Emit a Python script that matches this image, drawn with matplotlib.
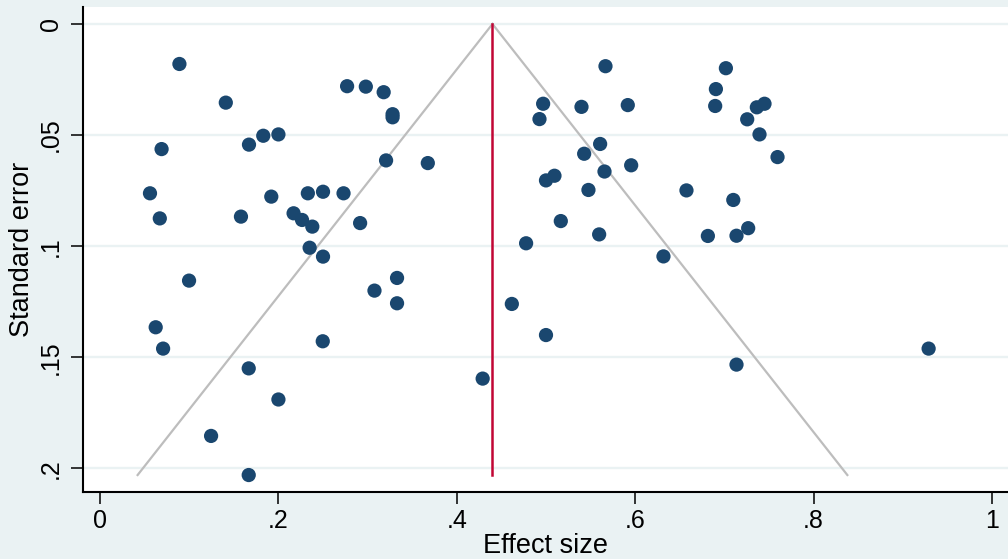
import numpy as np
import matplotlib
matplotlib.use("Agg")
import matplotlib.pyplot as plt

plt.rcParams['font.family'] = ['Liberation Sans', 'DejaVu Sans']

# --- DATA ---
effect = [0.089, 0.141, 0.069, 0.056, 0.067, 0.158, 0.167, 0.183, 0.200, 0.192,
          0.217, 0.2265, 0.238, 0.233, 0.250, 0.273, 0.235, 0.250, 0.0998,
          0.0624, 0.0707, 0.1667, 0.200, 0.1245, 0.1667, 0.2497,
          0.277, 0.298, 0.318, 0.328, 0.328, 0.3207, 0.3675, 0.2916,
          0.333, 0.3077, 0.333, 0.4617, 0.500, 0.429,
          0.5667, 0.4968, 0.4927, 0.5398, 0.5917, 0.5607, 0.5428, 0.5955,
          0.5656, 0.5095, 0.500, 0.5476, 0.5166, 0.5596, 0.4777, 0.6317,
          0.7017, 0.6905, 0.6897, 0.7364, 0.745, 0.7256, 0.7394, 0.7596,
          0.6575, 0.710, 0.6815, 0.7136, 0.7267, 0.7136, 0.929]
stderr = [0.018, 0.0354, 0.0563, 0.0762, 0.0875, 0.0867, 0.0543, 0.0503, 0.0497, 0.0777,
          0.0852, 0.0882, 0.0912, 0.0762, 0.0755, 0.0762, 0.1007, 0.1047, 0.1155,
          0.1365, 0.1461, 0.155, 0.169, 0.1854, 0.203, 0.1428,
          0.028, 0.0282, 0.0307, 0.0406, 0.042, 0.0614, 0.0626, 0.0896,
          0.1143, 0.120, 0.1257, 0.126, 0.140, 0.1596,
          0.019, 0.0359, 0.0428, 0.0373, 0.0365, 0.054, 0.0584, 0.0636,
          0.0664, 0.0683, 0.0704, 0.0747, 0.0887, 0.0947, 0.0987, 0.1046,
          0.0199, 0.0293, 0.0369, 0.0375, 0.0359, 0.0429, 0.0497, 0.0599,
          0.0749, 0.0792, 0.0954, 0.0953, 0.0919, 0.1533, 0.1461]
pooled = 0.44

xticks = [0, 0.2, 0.4, 0.6, 0.8, 1.0]
xticklabels = ['0', '.2', '.4', '.6', '.8', '1']
yticks = [0, 0.05, 0.1, 0.15, 0.2]
yticklabels = ['0', '.05', '.1', '.15', '.2']

# --- PLOT ---
bg = '#EAF2F3'
fig = plt.figure(figsize=(10.08, 5.59), dpi=100, facecolor=bg)
ax = fig.add_axes([0.0827, 0.1204, 0.9173, 0.8671])
ax.set_facecolor('white')

# pseudo 95% confidence limits
se_max = max(stderr)
se_line = np.array([0, se_max])
ax.plot(pooled - 1.96 * se_line, se_line, color='#BDBDBD', lw=1.6, zorder=2)
ax.plot(pooled + 1.96 * se_line, se_line, color='#BDBDBD', lw=1.6, zorder=2)
ax.plot([pooled, pooled], [0, se_max], color='#C10534', lw=1.8, zorder=3)

ax.scatter(effect, stderr, s=105, color='#1A476F', edgecolors='none', zorder=4)

ax.set_xlim(-0.0187, 1.018)
ax.set_ylim(0.2105, -0.00765)

ax.set_xticks(xticks)
ax.set_xticklabels(xticklabels)
ax.set_yticks(yticks)
ax.set_yticklabels(yticklabels, rotation=90, va='center')
ax.grid(axis='y', color=bg, lw=1.7)
ax.set_axisbelow(True)

for side in ['top', 'right']:
    ax.spines[side].set_visible(False)
for side in ['left', 'bottom']:
    ax.spines[side].set_linewidth(1.5)
ax.tick_params(axis='both', length=8.5, width=1.1, labelsize=18, direction='out')
ax.tick_params(axis='y', pad=6)
ax.tick_params(axis='x', pad=4)

ax.set_xlabel('Effect size', fontsize=19.5, labelpad=0)
ax.set_ylabel('Standard error', fontsize=19.5, labelpad=3)

fig.savefig('out.png', dpi=100, facecolor=bg)
